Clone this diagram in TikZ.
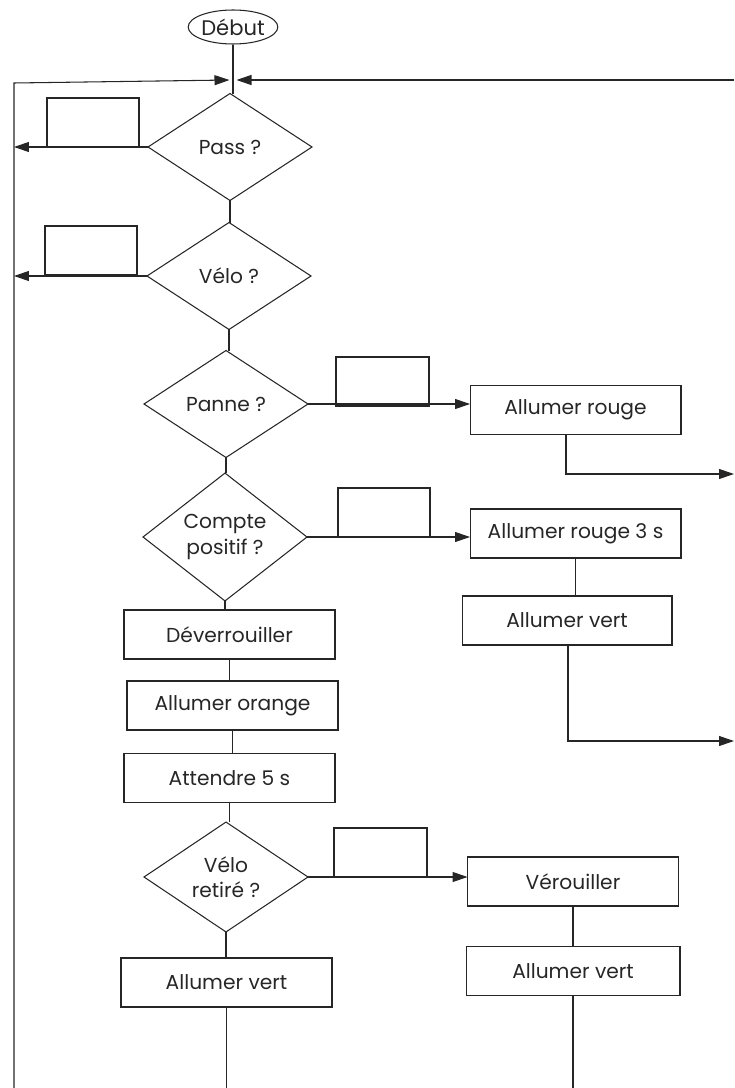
\documentclass[tikz,border=0pt]{standalone}
\usepackage{fontspec}
\setmainfont{Poppins}
\usetikzlibrary{shapes.geometric,arrows.meta}
\begin{document}
\begin{tikzpicture}[x=0.02cm,y=-0.02cm,line width=.6pt,draw=black!85,
		txt/.style={font=\fontsize{11.5}{14.5}\selectfont,text=black!85},
		bloc/.style={txt,draw,rectangle,minimum width=4.22cm,minimum height=.98cm,inner sep=0pt,outer sep=0pt},
		test/.style={txt,draw,diamond,align=center,minimum width=3.28cm,minimum height=2.14cm,inner sep=0pt,outer sep=0pt},
		vide/.style={draw,rectangle,anchor=south west,minimum width=1.84cm,minimum height=.98cm,inner sep=0pt,outer sep=0pt},
		fleche/.style={-{Triangle[length=.3cm,width=.2cm]}}]
		\useasboundingbox (0,0) rectangle (734,1088);
		\node[txt,draw,ellipse,font=\fontsize{12}{14}\selectfont,minimum width=1.36cm,minimum height=.68cm,inner sep=0pt] (debut) at (233,27) {Début};
		\node[test] (pass) at (230,147) {Pass ?};
		\node[test] (velo) at (229,276) {Vélo ?};
		\node[test] (panne) at (226,404) {Panne ?};
		\node[test] (compte) at (225,537) {Compte\\positif ?};
		\node[bloc] (deverr) at (229.5,634.5) {Déverrouiller};
		\node[bloc] (orange) at (232.5,705.5) {Allumer orange};
		\node[bloc] (attendre) at (229.5,778) {Attendre 5 s};
		\node[test] (retire) at (226,877) {Vélo\\retiré ?};
		\node[bloc] (vertA) at (226.5,982.5) {Allumer vert};
		\node[bloc] (rouge) at (575.5,410) {Allumer rouge};
		\node[bloc] (rouge3) at (575.5,533.5) {Allumer rouge 3 s};
		\node[bloc,minimum width=4.2cm] (vertB) at (567,620.5) {Allumer vert};
		\node[bloc] (verrou) at (573,881.5) {Vérouiller};
		\node[bloc,minimum width=4.28cm] (vertC) at (573,971) {Allumer vert};
		\node[vide] (vpass) at (47,147) {};
		\node[vide] (vvelo) at (45,275) {};
		\node[vide,minimum width=1.86cm] (vpanne) at (336,406) {};
		\node[vide] (vcompte) at (338,537) {};
		\node[vide,minimum width=1.86cm] (vretire) at (334,877) {};
		\coordinate (jonction) at (233,80);
		\coordinate (gauche) at (14,83);
		\coordinate (gbas) at (14,1088);
		\coordinate (droite) at (734,80);
		\coordinate (coinA) at (566,474);
		\coordinate (sortieA) at (734,474);
		\coordinate (coinB) at (568,741);
		\coordinate (sortieB) at (734,741);
		\draw (debut.south) -- (debut.south |- pass.north);
		\draw[fleche] (gbas) -- (gauche) -- ([xshift=-2]jonction);
		\draw[fleche] (droite) -- ([xshift=2]jonction);
		\draw[fleche] (pass.west) -- (pass.west -| gauche);
		\draw[fleche] (velo.west) -- (velo.west -| gauche);
		\draw (pass.south) -- (pass.south |- velo.north);
		\draw (velo.south) -- (velo.south |- panne.north);
		\draw (panne.south) -- (panne.south |- compte.north);
		\draw[fleche] (panne.east) -- (panne.east -| rouge.west);
		\draw[fleche] (rouge.south -| coinA) -- (coinA) -- (sortieA);
		\draw[fleche] (compte.east) -- (compte.east -| rouge3.west);
		\draw (rouge3.south) -- (rouge3.south |- vertB.north);
		\draw[fleche] (vertB.south -| coinB) -- (coinB) -- (sortieB);
		\draw (compte.south) -- (compte.south |- deverr.north);
		\draw (deverr.south) -- (deverr.south |- orange.north);
		\draw (orange.south) -- (orange.south |- attendre.north);
		\draw (attendre.south) -- (attendre.south |- retire.north);
		\draw (retire.south) -- (retire.south |- vertA.north);
		\draw (vertA.south) -- (vertA.south |- gbas);
		\draw[fleche] (retire.east) -- (retire.east -| verrou.west);
		\draw (verrou.south) -- (verrou.south |- vertC.north);
		\draw (vertC.south) -- (vertC.south |- gbas);
\end{tikzpicture}
\end{document}
